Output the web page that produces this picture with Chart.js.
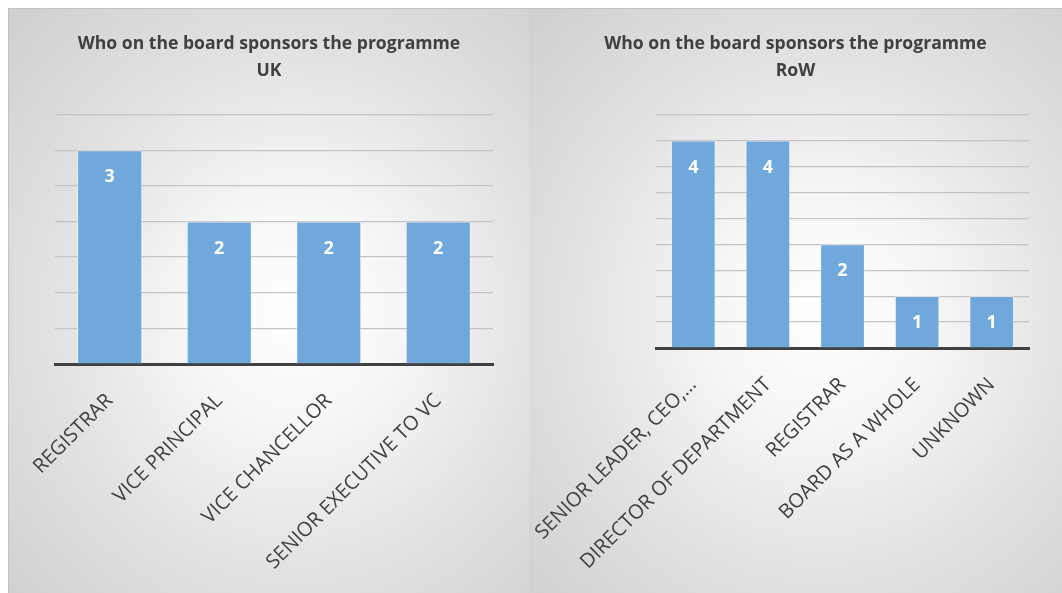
<!DOCTYPE html>
<html>
<head>
<meta charset="utf-8">
<script src="https://cdn.jsdelivr.net/npm/chart.js@4/dist/chart.umd.min.js"></script>
<style>
  body { margin: 0; background: #fff; width: 1062px; height: 593px; overflow: hidden; position: relative; }
  .panel {
    position: absolute; top: 8px; height: 585px;
    background: radial-gradient(ellipse farthest-corner at 55% 52%, #ffffff 0%, #f7f7f7 25%, #e2e2e2 60%, #cfcfcf 100%);
    border-top: 1px solid #c2c2c2;
  }
  #leftPanel { left: 8px; width: 520px; border-left: 1px solid #c2c2c2; border-right: 1px solid #c2c2c2; }
  #rightPanel { left: 529px; width: 533px; }
  canvas { display: block; }
</style>
</head>
<body>
<div class="panel" id="leftPanel"><canvas id="ukChart" width="520" height="585"></canvas></div>
<div class="panel" id="rightPanel"><canvas id="rowChart" width="533" height="585"></canvas></div>

<script>
const chartTitle = 'Who on the board sponsors the programme';

const ukLabels = ['REGISTRAR', 'VICE PRINCIPAL', 'VICE CHANCELLOR', 'SENIOR EXECUTIVE TO VC'];
const ukValues = [3, 2, 2, 2];

const rowLabels = ['SENIOR LEADER, CEO,…', 'DIRECTOR OF DEPARTMENT', 'REGISTRAR', 'BOARD AS A WHOLE', 'UNKNOWN'];
const rowValues = [4, 4, 2, 1, 1];

const textColor = '#404040';
const barColor = '#70a8db';

// white value inside the top of every bar
const valueLabels = {
    id: 'valueLabels',
    afterDatasetsDraw(chart) {
        const ctx = chart.ctx;
        const meta = chart.getDatasetMeta(0);
        const values = chart.data.datasets[0].data;
        ctx.save();
        ctx.fillStyle = '#ffffff';
        ctx.font = 'bold 18px "Open Sans"';
        ctx.textAlign = 'center';
        ctx.textBaseline = 'middle';
        meta.data.forEach((bar, i) => {
            ctx.fillText(values[i], bar.x, bar.y + 27);
        });
        ctx.restore();
    }
};

const makeChart = (id, subtitle, labels, values, yMax, opts) => {
    const ctx = document.getElementById(id).getContext('2d');
    return new Chart(ctx, {
        type: 'bar',
        data: {
            labels: labels,
            datasets: [{
                data: values,
                backgroundColor: barColor,
                borderColor: 'rgba(255,255,255,0.45)',
                borderWidth: 1,
                barPercentage: opts.barPct,
                categoryPercentage: 1
            }]
        },
        options: {
            responsive: false,
            animation: false,
            devicePixelRatio: 1,
            plugins: {
                legend: { display: false },
                tooltip: { enabled: false },
                title: {
                    display: true,
                    text: [chartTitle, subtitle],
                    color: textColor,
                    font: { family: '"Open Sans"', size: 17.6, weight: 'bold', lineHeight: 1.55 },
                    padding: { top: 21, bottom: 30 }
                }
            },
            scales: {
                x: {
                    grid: { display: false },
                    border: { color: '#404040', width: 3 },
                    ticks: {
                        color: textColor,
                        font: { family: '"Open Sans"', size: 20 },
                        minRotation: 45,
                        maxRotation: 45,
                        autoSkip: false,
                        padding: 17
                    },
                    afterFit: (scale) => {
                        scale.height = opts.xHeight;
                        // rotated labels may hang past the plot edges
                        scale.paddingLeft = 0;
                        scale.paddingRight = 0;
                    }
                },
                y: {
                    min: 0,
                    max: yMax,
                    grid: { color: '#c4c4c4', lineWidth: 1.2, drawTicks: false },
                    border: { display: false },
                    ticks: { display: false, stepSize: 0.5 },
                    afterFit: (scale) => { scale.width = opts.left; }
                },
                // empty right margin so the title stays centred on the panel
                yRight: {
                    position: 'right',
                    grid: { display: false },
                    border: { display: false },
                    ticks: { display: false },
                    afterFit: (scale) => { scale.width = opts.right; }
                }
            }
        },
        plugins: [valueLabels]
    });
};

makeChart('ukChart', 'UK', ukLabels, ukValues, 3.5, { left: 46, right: 36, xHeight: 230, barPct: 0.595 });
makeChart('rowChart', 'RoW', rowLabels, rowValues, 4.5, { left: 127, right: 33, xHeight: 246, barPct: 0.6 });
</script>
</body>
</html>
